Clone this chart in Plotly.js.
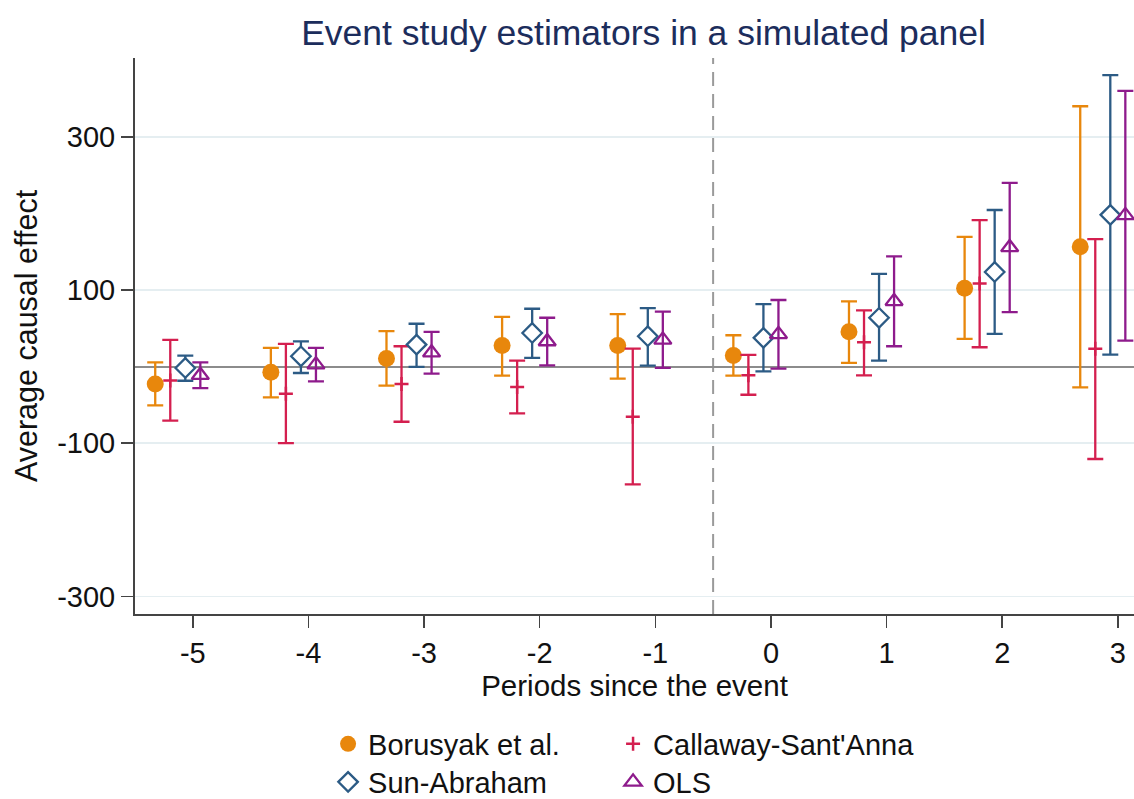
<!DOCTYPE html>
<html>
<head>
<meta charset="utf-8">
<script src="https://cdn.plot.ly/plotly-3.0.1.min.js"></script>
<style>
  html, body { margin: 0; padding: 0; background: #ffffff; }
  #chart { width: 1134px; height: 799px; }
</style>
</head>
<body>
<div id="chart"></div>
<script>
// ---- Data ----
const periods = [-5, -4, -3, -2, -1, 0, 1, 2, 3];

const borusyakEst = [-22.7, -7.4, 10.5, 27.5, 27.5, 14.4, 45.5, 102.3, 156.5];
const borusyakLo  = [-50.7, -40.2, -24.9, -11.8, -15.7, -11.8, 4.8, 36.3, -27];
const borusyakHi  = [5.6, 24.5, 46.3, 65, 68.6, 41, 85.2, 169.5, 340];

const callawayEst = [-18, -35.4, -22.7, -26.6, -65.6, -11.4, 31.9, 108.4, 23.2];
const callawayLo  = [-70.4, -100, -72, -61, -153.8, -36.7, -11.4, 25.3, -120.6];
const callawayHi  = [35, 29.7, 26.6, 7.9, 23.6, 15.3, 73.4, 191.4, 166.5];

const sunAbrahamEst = [-1.7, 13.5, 28.8, 44, 39.7, 37.6, 63.8, 123.6, 198.2];
const sunAbrahamLo  = [-18.4, -8.3, -0.4, 11.4, 1.3, -6.1, 7.9, 42.9, 15.7];
const sunAbrahamHi  = [14.4, 33, 56, 75.6, 76.4, 81.7, 121, 204.5, 380.6];

const olsEst = [-11.2, 2.6, 18.2, 32.8, 35, 42.2, 85.3, 155.6, 197.5];
const olsLo  = [-28, -19.2, -9.2, 1.7, -1.7, -2.6, 26.6, 71.2, 34];
const olsHi  = [5.6, 24.5, 45.5, 63.8, 71.7, 87, 144, 240, 360];

const yTickVals = [-300, -100, 100, 300];
const xTickVals = [-5, -4, -3, -2, -1, 0, 1, 2, 3];

// ---- Styling ----
const FONT = '"Liberation Sans", Arial, Helvetica, sans-serif';
const C_BOR = '#e8870c';
const C_CS  = '#d41f4f';
const C_SA  = '#2c5b85';
const C_OLS = '#8e1b8c';

function shift(arr, d) { return arr.map(v => v + d); }
function plus(est, hi) { return est.map((v, i) => hi[i] - v); }
function minus(est, lo) { return est.map((v, i) => v - lo[i]); }

function errBar(est, lo, hi, color) {
  return {
    type: 'data', symmetric: false,
    array: plus(est, hi), arrayminus: minus(est, lo),
    color: color, thickness: 2.3, width: 8
  };
}

const traces = [
  {
    name: 'Borusyak et al.', type: 'scatter', mode: 'markers',
    x: shift(periods, -0.325), y: borusyakEst,
    error_y: errBar(borusyakEst, borusyakLo, borusyakHi, C_BOR),
    marker: { symbol: 'circle', size: 17, color: C_BOR },
    legend: 'legend'
  },
  {
    name: "Callaway-Sant'Anna", type: 'scatter', mode: 'markers',
    x: shift(periods, -0.195), y: callawayEst,
    error_y: errBar(callawayEst, callawayLo, callawayHi, C_CS),
    marker: { symbol: 'cross-thin-open', size: 10, color: C_CS, line: { color: C_CS, width: 2.5 } },
    legend: 'legend2'
  },
  {
    name: 'Sun-Abraham', type: 'scatter', mode: 'markers',
    x: shift(periods, -0.065), y: sunAbrahamEst,
    error_y: errBar(sunAbrahamEst, sunAbrahamLo, sunAbrahamHi, C_SA),
    marker: { symbol: 'diamond', size: 15, color: '#ffffff', line: { color: C_SA, width: 2.3 } },
    legend: 'legend3'
  },
  {
    name: 'OLS', type: 'scatter', mode: 'markers',
    x: shift(periods, 0.065), y: olsEst,
    error_y: errBar(olsEst, olsLo, olsHi, C_OLS),
    marker: { symbol: 'triangle-up-open', size: 15, color: C_OLS, line: { color: C_OLS, width: 2.3 } },
    legend: 'legend4'
  }
];

const legendCommon = {
  orientation: 'h',
  xref: 'container', yref: 'container',
  xanchor: 'left', yanchor: 'middle',
  font: { family: FONT, size: 29, color: '#111111' },
  bgcolor: 'rgba(0,0,0,0)'
};

const COL1 = 0.2893, COL2 = 0.2893 + 285 / 1134;
const ROW1 = 1 - 744 / 799, ROW2 = 1 - 782 / 799;

const layout = {
  width: 1134, height: 799,
  margin: { l: 135, r: 0, t: 58, b: 185, pad: 0 },
  paper_bgcolor: '#ffffff', plot_bgcolor: '#ffffff',
  font: { family: FONT, size: 29, color: '#111111' },
  title: {
    text: 'Event study estimators in a simulated panel',
    font: { family: FONT, size: 35.5, color: '#1c2d5c' },
    xref: 'container', x: 0.5675, xanchor: 'center',
    yref: 'container', y: 1 - 33 / 799, yanchor: 'middle'
  },
  xaxis: {
    range: [-5.5, 3.14],
    tickmode: 'array', tickvals: xTickVals, ticktext: xTickVals.map(String),
    ticks: 'outside', ticklen: 12, tickwidth: 1.5, tickcolor: '#444444',
    showline: true, linecolor: '#444444', linewidth: 2,
    showgrid: false, zeroline: false,
    tickfont: { family: FONT, size: 29, color: '#111111' },
    title: { text: 'Periods since the event', font: { family: FONT, size: 29.5, color: '#111111' }, standoff: 0 },
    automargin: false, fixedrange: true
  },
  yaxis: {
    range: [-323, 403],
    tickmode: 'array', tickvals: yTickVals, ticktext: yTickVals.map(String),
    ticks: 'outside', ticklen: 12, tickwidth: 1.5, tickcolor: '#444444',
    showline: true, linecolor: '#444444', linewidth: 2,
    showgrid: true, gridcolor: '#e5eef1', gridwidth: 1.5,
    zeroline: true, zerolinecolor: '#8c8c8c', zerolinewidth: 2,
    tickfont: { family: FONT, size: 29, color: '#111111' },
    title: { text: 'Average causal effect', font: { family: FONT, size: 30.5, color: '#111111' }, standoff: 10 },
    automargin: false, fixedrange: true
  },
  shapes: [
    {
      type: 'line', xref: 'x', yref: 'paper',
      x0: -0.5, x1: -0.5, y0: 0, y1: 1,
      line: { color: '#9a9a9a', width: 2, dash: '14px,8px' },
      layer: 'below'
    }
  ],
  legend:  Object.assign({}, legendCommon, { x: COL1, y: ROW1 }),
  legend2: Object.assign({}, legendCommon, { x: COL2, y: ROW1 }),
  legend3: Object.assign({}, legendCommon, { x: COL1, y: ROW2 }),
  legend4: Object.assign({}, legendCommon, { x: COL2, y: ROW2 }),
  showlegend: true
};

Plotly.newPlot('chart', traces, layout, { displayModeBar: false, staticPlot: true });
</script>
</body>
</html>
